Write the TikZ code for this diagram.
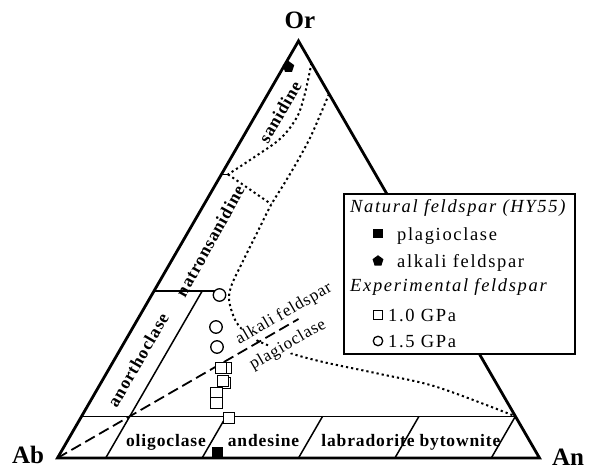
\documentclass[tikz,border=0pt]{standalone}
\usepackage{fontspec}
\setmainfont{Liberation Serif}
\newfontfamily\legfont[LetterSpace=9]{Liberation Serif}
\newfontfamily\labfont[LetterSpace=5]{Liberation Serif}
\usetikzlibrary{shapes.geometric}
\begin{document}
\begin{tikzpicture}[x=1pt,y=-1pt,
  tri/.style={line width=2.8pt, line join=miter},
  stripln/.style={line width=1.5pt},
  dotln/.style={line width=2pt, dash pattern=on 2.2pt off 3pt},
  dashln/.style={line width=1.8pt, dash pattern=on 11pt off 5pt},
  fieldlab/.style={font=\labfont\bfseries\fontsize{17.5}{19}\selectfont, inner sep=0pt},
  linelab/.style={font=\labfont\fontsize{17}{19}\selectfont, fill=white, inner sep=0.5pt, rotate=30},
  vertlab/.style={font=\bfseries\fontsize{25}{27}\selectfont, inner sep=0pt},
  legtxt/.style={font=\legfont\fontsize{18.5}{20}\selectfont, anchor=base west, inner sep=0pt},
  legit/.style={font=\legfont\itshape\fontsize{18.5}{20}\selectfont, anchor=base west, inner sep=0pt},
  sqmark/.style={rectangle, draw, line width=1.2pt, fill=white, minimum size=11.5pt, inner sep=0pt},
  cimark/.style={circle, draw, line width=1.3pt, fill=white, minimum size=12.5pt, inner sep=0pt},
  fsq/.style={rectangle, fill=black, minimum size=10.5pt, inner sep=0pt},
  pent/.style={regular polygon, regular polygon sides=5, fill=black, minimum size=12pt, inner sep=0pt}]
\useasboundingbox (0,0) rectangle (590,470);
% vertices
\coordinate (Ab) at (57.5,458);
\coordinate (An) at (539.5,458);
\coordinate (Or) at (298.5,41);
% strip points
\coordinate (L10) at (81.6,416.3);
\coordinate (R10) at (515.4,416.3);
\coordinate (a1b) at (105.7,458); \coordinate (a1u) at (202.1,291.2);
\coordinate (a3b) at (202.1,458); \coordinate (a3t) at (226.2,416.3);
\coordinate (a5b) at (298.5,458); \coordinate (a5t) at (322.6,416.3);
\coordinate (a7b) at (394.9,458); \coordinate (a7t) at (419,416.3);
\coordinate (a9b) at (491.3,458);
\coordinate (L40) at (153.9,291.2); \coordinate (M40) at (224,291.2);
\coordinate (T0) at (221.4,174.4); \coordinate (T1) at (228,174.4);
\coordinate (K) at (271,204);
\coordinate (Cen) at (298.5,319);
% solid field lines
\draw[stripln] (L10) -- (R10);
\draw[stripln] (a1b) -- (a1u);
\draw[stripln] (a3b) -- (a3t);
\draw[stripln] (a5b) -- (a5t);
\draw[stripln] (a7b) -- (a7t);
\draw[stripln] (a9b) -- (R10);
\draw[stripln] (L40) -- (M40);
\draw[stripln] (T0) -- (T1);
% dashed boundary
\draw[dashln] (Ab) -- (Cen);
% dotted boundaries
\draw[dotln] plot[smooth, tension=0.6] coordinates {(311.5,63) (308,80) (304,97) (297,117) (281,138) (256,156) (228,174.4)};
\draw[dotln] (T1) -- (K);
\draw[dotln] plot[smooth, tension=0.55] coordinates {(329,94) (321,113) (310,138) (297,162) (284,184) (271,205) (257,233) (243,261) (232,284) (229,298) (232,312) (239,326) (256,340) (290,353) (323,362) (380,374) (437,387) (515.4,416.3)};
% field labels
\node[fieldlab, rotate=60] (san) at (280,112) {sanidine};
\node[fieldlab, rotate=61] (nat) at (210,241) {natronsanidine};
\node[fieldlab, rotate=60] (ano) at (138,360) {anorthoclase};
\node[fieldlab, anchor=base] (oli) at (166,447) {oligoclase};
\node[fieldlab, anchor=base] (and) at (263.5,447) {andesine};
\node[fieldlab, anchor=base] (lab) at (368,447) {labradorite};
\node[fieldlab, anchor=base] (byt) at (460,447) {bytownite};
\node[linelab] (alk) at (284,314) {alkali feldspar};
\node[linelab] (pla) at (288,345) {plagioclase};
% triangle
\draw[tri] (Ab) -- (An) -- (Or) -- cycle;
\node[vertlab] (lOr) at (300,20) {Or};
\node[vertlab] (lAb) at (28,455) {Ab};
\node[vertlab] (lAn) at (568,457) {An};
% data points
\node[sqmark] (s1) at (226,368) {};
\node[sqmark] (s2) at (221,368) {};
\node[sqmark] (s3) at (225,383) {};
\node[sqmark] (s4) at (223,381) {};
\node[sqmark] (s5) at (216.5,393) {};
\node[sqmark] (s6) at (216.5,403) {};
\node[sqmark] (s7) at (229,418) {};
\node[cimark] (c1) at (219.5,295) {};
\node[cimark] (c2) at (216,327) {};
\node[cimark] (c3) at (217,347) {};
\node[fsq] (np) at (217.5,452.5) {};
\node[pent] (na) at (288.5,67) {};
% legend
\node[draw, line width=2pt, fill=white, anchor=north west, minimum width=231pt, minimum height=160pt, inner sep=0pt] (leg) at (343,193) {};
\node[legit] (t1) at (350,213) {Natural feldspar (HY55)};
\node[fsq, minimum size=9.5pt] (m1) at (378,233.5) {};
\node[legtxt] (t2) at (397,240.5) {plagioclase};
\node[pent, minimum size=11.5pt] (m2) at (378,261) {};
\node[legtxt] (t3) at (397,268) {alkali feldspar};
\node[legit] (t4) at (350,292) {Experimental feldspar};
\node[sqmark, minimum size=9.5pt] (m3) at (378,315) {};
\node[legtxt] (t5) at (388,322) {1.0 GPa};
\node[cimark, minimum size=9.5pt] (m4) at (378,341) {};
\node[legtxt] (t6) at (388,348) {1.5 GPa};
\end{tikzpicture}
\end{document}
